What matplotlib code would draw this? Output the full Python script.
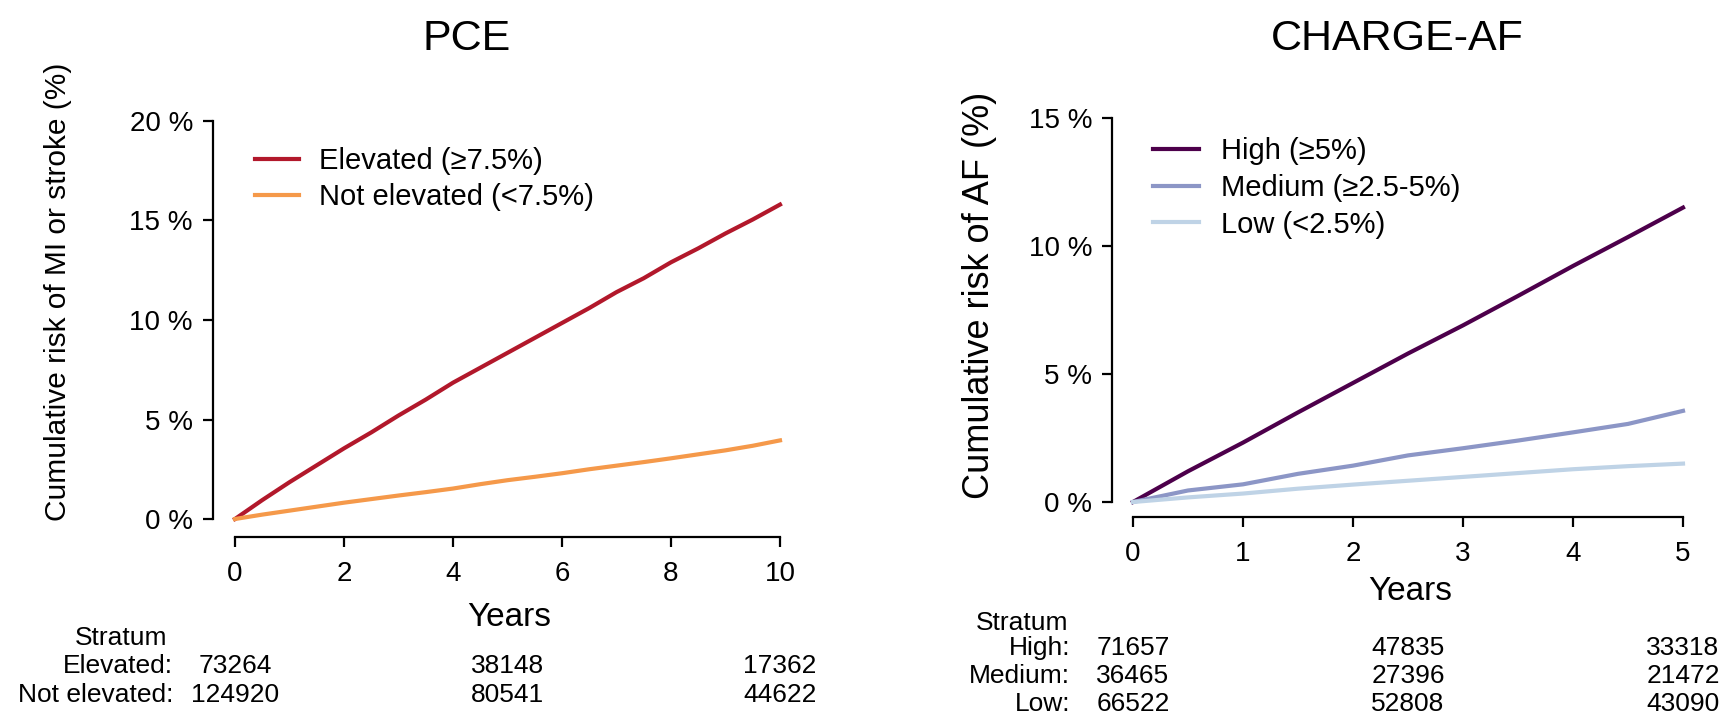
import matplotlib
matplotlib.use('Agg')
import matplotlib.pyplot as plt
from matplotlib.transforms import blended_transform_factory

plt.rcParams['font.family'] = ['Liberation Sans', 'DejaVu Sans']

# PCE panel (cumulative risk %)
pce_years = [0, 0.5, 1, 1.5, 2, 2.5, 3, 3.5, 4, 4.5, 5, 5.5, 6, 6.5, 7, 7.5, 8, 8.5, 9, 9.5, 10]
pce_elevated = [0, 0.95, 1.85, 2.7, 3.55, 4.35, 5.2, 6.0, 6.85, 7.6, 8.35, 9.1, 9.85, 10.6, 11.4, 12.1, 12.9, 13.6, 14.35, 15.05, 15.8]
pce_not_elevated = [0, 0.22, 0.42, 0.62, 0.82, 1.0, 1.18, 1.35, 1.53, 1.75, 1.95, 2.12, 2.3, 2.5, 2.68, 2.86, 3.05, 3.25, 3.45, 3.68, 3.95]
pce_labels = ['Elevated (≥7.5%)', 'Not elevated (<7.5%)']
pce_colors = ['#B2182B', '#F5994A']
pce_risk_times = [0, 5, 10]
pce_risk_rows = ['Elevated:', 'Not elevated:']
pce_risk = [[73264, 38148, 17362], [124920, 80541, 44622]]

# CHARGE-AF panel
af_years = [0, 0.5, 1, 1.5, 2, 2.5, 3, 3.5, 4, 4.5, 5]
af_high = [0, 1.2, 2.32, 3.5, 4.65, 5.8, 6.9, 8.05, 9.22, 10.35, 11.5]
af_medium = [0, 0.45, 0.69, 1.1, 1.42, 1.82, 2.1, 2.4, 2.72, 3.05, 3.56]
af_low = [0, 0.18, 0.33, 0.52, 0.68, 0.83, 0.98, 1.13, 1.28, 1.4, 1.5]
af_labels = ['High (≥5%)', 'Medium (≥2.5-5%)', 'Low (<2.5%)']
af_colors = ['#4D004B', '#8C96C6', '#BFD3E6']
af_risk_times = [0, 2.5, 5]
af_risk_rows = ['High:', 'Medium:', 'Low:']
af_risk = [[71657, 47835, 33318], [36465, 27396, 21472], [66522, 52808, 43090]]

W, H = 1727, 720
fig = plt.figure(figsize=(W / 100, H / 100), dpi=100)


def px(x, y):
    # pixel position (from top-left) -> figure fraction
    return x / W, 1 - y / H


def style_axis(ax, xmax, ymax, xticks, yticks, off_y, off_x):
    ax.set_xlim(0, xmax)
    ax.set_ylim(0, ymax)
    for s in ['top', 'right']:
        ax.spines[s].set_visible(False)
    ax.spines['left'].set_position(('outward', off_y))
    ax.spines['bottom'].set_position(('outward', off_x))
    ax.spines['left'].set_bounds(0, ymax)
    ax.spines['bottom'].set_bounds(0, xmax)
    ax.spines['left'].set_linewidth(1.6)
    ax.spines['bottom'].set_linewidth(1.6)
    ax.set_xticks(xticks)
    ax.set_xticklabels([str(t) for t in xticks])
    ax.set_yticks(yticks)
    ax.set_yticklabels(['%d %%' % t for t in yticks])
    ax.tick_params(axis='both', length=7, width=1.6, labelsize=20)
    ax.tick_params(axis='x', pad=10)
    ax.tick_params(axis='y', pad=7.5)
    ax.patch.set_visible(False)


# ---- left: PCE ----
ax1 = fig.add_axes([235 / W, 1 - 519 / H, 545 / W, 398 / H])
style_axis(ax1, 10, 20, [0, 2, 4, 6, 8, 10], [0, 5, 10, 15, 20], 15.8, 13)
for vals, lab, col in zip([pce_elevated, pce_not_elevated], pce_labels, pce_colors):
    ax1.plot(pce_years, vals, color=col, lw=3, label=lab, clip_on=False)
ax1.legend(loc='upper left', bbox_to_anchor=(0.037, 0.935), frameon=False, fontsize=21,
           handlelength=1.5, handletextpad=0.7, labelspacing=0.28, borderpad=0, borderaxespad=0)

fig.text(*px(467, 50), 'PCE', fontsize=31, ha='center', va='baseline')
fig.text(*px(58, 292), 'Cumulative risk of MI or stroke (%)', fontsize=21.5, rotation=90, ha='center', va='center')
fig.text(*px(509, 618), 'Years', fontsize=24, ha='center', va='center')

tr1 = blended_transform_factory(ax1.transData, fig.transFigure)
fig.text(*px(167, 645), 'Stratum', fontsize=19, ha='right', va='baseline')
for i, (row, counts) in enumerate(zip(pce_risk_rows, pce_risk)):
    yb = 1 - (673 + i * 29) / H
    fig.text(173 / W, yb, row, fontsize=19, ha='right', va='baseline')
    for t, n in zip(pce_risk_times, counts):
        ax1.text(t, yb, str(n), transform=tr1, fontsize=19, ha='center', va='baseline')

# ---- right: CHARGE-AF ----
ax2 = fig.add_axes([1133 / W, 1 - 502 / H, 550 / W, 384 / H])
style_axis(ax2, 5, 15, [0, 1, 2, 3, 4, 5], [0, 5, 10, 15], 15, 10.8)
for vals, lab, col in zip([af_high, af_medium, af_low], af_labels, af_colors):
    ax2.plot(af_years, vals, color=col, lw=3, label=lab, clip_on=False)
ax2.legend(loc='upper left', bbox_to_anchor=(0.036, 0.95), frameon=False, fontsize=21,
           handlelength=1.6, handletextpad=0.75, labelspacing=0.3, borderpad=0, borderaxespad=0)

fig.text(*px(1397, 50), 'CHARGE-AF', fontsize=31, ha='center', va='baseline')
fig.text(*px(980, 295), 'Cumulative risk of AF (%)', fontsize=26, rotation=90, ha='center', va='center')
fig.text(*px(1410, 592), 'Years', fontsize=24, ha='center', va='center')

tr2 = blended_transform_factory(ax2.transData, fig.transFigure)
fig.text(*px(1068, 630), 'Stratum', fontsize=19, ha='right', va='baseline')
for i, (row, counts) in enumerate(zip(af_risk_rows, af_risk)):
    yb = 1 - (655 + i * 28) / H
    fig.text(1070 / W, yb, row, fontsize=19, ha='right', va='baseline')
    for t, n in zip(af_risk_times, counts):
        ax2.text(t, yb, str(n), transform=tr2, fontsize=19, ha='center', va='baseline')

fig.savefig('out.png', dpi=100, facecolor='white')
